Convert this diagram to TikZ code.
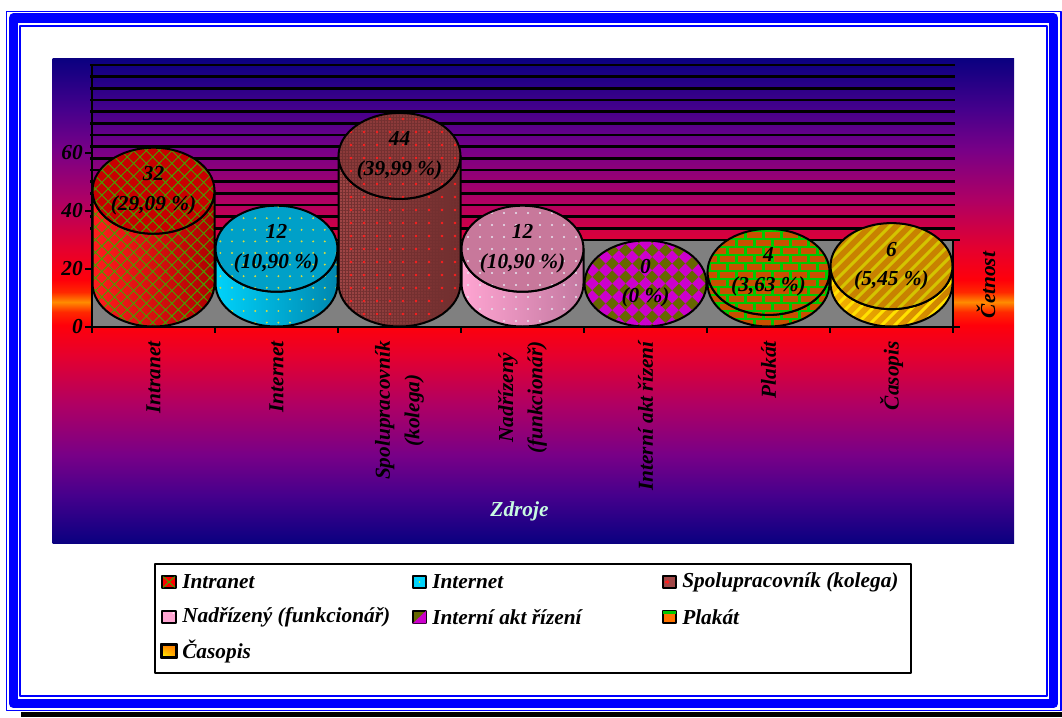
\documentclass[tikz,border=0pt]{standalone}
\usepackage{fontspec}
\setmainfont{Liberation Serif}
\usetikzlibrary{patterns.meta,shadings}

\definecolor{frblue}{RGB}{0,0,255}
\definecolor{bgA}{RGB}{10,0,128}
\definecolor{bgB}{RGB}{70,0,140}
\definecolor{bgC}{RGB}{120,0,135}
\definecolor{bgD}{RGB}{175,0,100}
\definecolor{bgE}{RGB}{230,0,45}
\definecolor{bgF}{RGB}{255,0,10}
\definecolor{bgG}{RGB}{255,40,0}
\definecolor{bgH}{RGB}{255,140,0}
\definecolor{floorgray}{RGB}{128,128,128}
\definecolor{zdr}{RGB}{200,250,225}
\definecolor{intTop}{RGB}{200,0,0}
\definecolor{intL}{RGB}{255,30,30}
\definecolor{intR}{RGB}{175,0,0}
\definecolor{intG}{RGB}{70,160,0}
\definecolor{netTop}{RGB}{0,160,200}
\definecolor{netL}{RGB}{0,210,250}
\definecolor{netR}{RGB}{0,135,175}
\definecolor{netY}{RGB}{220,220,60}
\definecolor{spoTop}{RGB}{140,58,58}
\definecolor{spoL}{RGB}{160,70,70}
\definecolor{spoR}{RGB}{110,45,45}
\definecolor{spoH}{RGB}{115,48,48}
\definecolor{spoD}{RGB}{255,30,30}
\definecolor{nadTop}{RGB}{200,120,155}
\definecolor{nadL}{RGB}{255,165,210}
\definecolor{nadR}{RGB}{195,120,160}
\definecolor{nadW}{RGB}{230,230,240}
\definecolor{chkO}{RGB}{102,102,0}
\definecolor{chkM}{RGB}{204,0,204}
\definecolor{brk}{RGB}{200,80,0}
\definecolor{mort}{RGB}{0,200,0}
\definecolor{casTop}{RGB}{200,130,0}
\definecolor{casL}{RGB}{245,180,0}
\definecolor{casR}{RGB}{200,125,0}
\definecolor{casS}{RGB}{212,196,0}
\definecolor{casSb}{RGB}{255,225,0}

\pgfdeclareverticalshading{chartbg}{100bp}{color(0bp)=(bgA); color(25bp)=(bgA); color(29.98bp)=(bgB); color(34.10bp)=(bgC); color(39.26bp)=(bgD); color(44.41bp)=(bgE); color(47.51bp)=(bgF); color(48.85bp)=(bgG); color(49.88bp)=(bgH); color(50.91bp)=(bgG); color(52.15bp)=(bgF); color(55.24bp)=(bgE); color(60.39bp)=(bgD); color(65.55bp)=(bgC); color(69.67bp)=(bgB); color(75bp)=(bgA); color(100bp)=(bgA)}

\newcommand\lblfont{\fontsize{16pt}{22pt}\selectfont\bfseries\itshape}
\newcommand\cylside[3]{\path[#3] ({#1-61},#2) -- ({#1-61},283.5) arc[start angle=180,end angle=0,x radius=61,y radius=43] -- ({#1+61},#2) arc[start angle=0,end angle=180,x radius=61,y radius=43] -- cycle;}
\newcommand\cyltop[3]{\path[#3] (#1,#2) ellipse[x radius=61,y radius=43];}

\tikzset{
  cylout/.style={draw=black,line width=1.5pt},
  wallline/.style={draw=black,line width=1.9pt},
  axisline/.style={draw=black,line width=1.5pt},
  vlab/.style={align=center,inner sep=0pt,font=\lblfont},
  axlab/.style={anchor=east,inner sep=0pt,font=\lblfont},
  catlab/.style={rotate=90,anchor=east,align=center,inner sep=0pt,font=\lblfont},
  lmark/.style={draw=black,line width=1.5pt,minimum width=10pt,minimum height=9.5pt,inner sep=0pt},
  ltext/.style={anchor=west,inner sep=0pt,font=\lblfont},
}

\begin{document}
\begin{tikzpicture}[x=0.75pt,y=-0.75pt,line join=round]
\useasboundingbox (0,0) rectangle (1062,717);
\fill[white] (0,0) rectangle (1062,717);

% frame
\draw[frblue,line width=1.1pt] (6.5,11.5) rectangle (1061,710.5);
\draw[frblue,line width=7.1pt] (13.5,18) rectangle (1053.5,703.5);
\draw[frblue,line width=1.5pt] (20,26) rectangle (1047,696);
\fill[black] (21,712) rectangle (1062,717);

% chart background
\shade[shading=chartbg] (52.7,58.3) rectangle (1014,543.3);

% back wall lines
\foreach \k in {0,...,14}{\draw[wallline] (90,{65+\k*11.667}) -- (955,{65+\k*11.667});}

% floor
\filldraw[fill=floorgray,draw=black,line width=1.5pt] (92,240) rectangle (953,327);

% cylinder 1 Intranet
\cylside{153.5}{190.7}{left color=intL,right color=intR,postaction={pattern={Hatch[angle=45,distance=6.75pt,line width=0.7pt]},pattern color=intG},postaction={cylout}}
\cyltop{153.5}{190.7}{fill=intTop,postaction={pattern={Hatch[angle=45,distance=6.75pt,line width=0.7pt]},pattern color=intG},postaction={cylout}}
% cylinder 2 Internet
\cylside{276.5}{248.7}{left color=netL,right color=netR,postaction={pattern={Dots[radius=0.8pt,distance=8.7pt]},pattern color=netY},postaction={cylout}}
\cyltop{276.5}{248.7}{fill=netTop,postaction={pattern={Dots[radius=0.8pt,distance=8.7pt]},pattern color=netY},postaction={cylout}}
% cylinder 3 Spolupracovnik
\cylside{399.5}{155.9}{left color=spoL,right color=spoR,postaction={pattern={Hatch[angle=0,distance=2.25pt,line width=0.45pt]},pattern color=spoH},postaction={pattern={Dots[radius=1pt,distance=9.75pt]},pattern color=spoD},postaction={cylout}}
\cyltop{399.5}{155.9}{fill=spoTop,postaction={pattern={Hatch[angle=0,distance=2.25pt,line width=0.45pt]},pattern color=spoH},postaction={pattern={Dots[radius=1pt,distance=9.75pt]},pattern color=spoD},postaction={cylout}}
% cylinder 4 Nadrizeny
\cylside{522.5}{248.7}{left color=nadL,right color=nadR,postaction={pattern={Dots[radius=0.8pt,distance=9pt]},pattern color=nadW},postaction={cylout}}
\cyltop{522.5}{248.7}{fill=nadTop,postaction={pattern={Dots[radius=0.8pt,distance=9pt]},pattern color=nadW},postaction={cylout}}
% cylinder 5 Interni akt rizeni (0)
\begin{scope}
  \cyltop{645.5}{283.5}{clip}
  \fill[chkO] (580,235) rectangle (712,332);
  \foreach \i in {-5,...,5}{\foreach \j in {-4,...,4}{
    \fill[chkM] ({645.5+13.3*\i+6.65},{283.5+13.3*\j}) -- ++(-6.65,6.65) -- ++(-6.65,-6.65) -- ++(6.65,-6.65) -- cycle;}}
\end{scope}
\cyltop{645.5}{283.5}{cylout}
% cylinder 6 Plakat
\begin{scope}
  \cylside{768.5}{271.9}{clip}
  \fill[mort] (700,220) rectangle (840,332);
  \foreach \j in {0,...,14}{\foreach \i in {0,...,8}{
    \fill[brk] ({702+18*\i-9*mod(\j,2)},{224+8*\j}) rectangle ++(15,5.5);}}
\end{scope}
\cylside{768.5}{271.9}{cylout}
\begin{scope}
  \cyltop{768.5}{271.9}{clip}
  \fill[mort] (700,220) rectangle (840,332);
  \foreach \j in {0,...,14}{\foreach \i in {0,...,8}{
    \fill[brk] ({702+18*\i-9*mod(\j,2)},{224+8*\j}) rectangle ++(15,5.5);}}
\end{scope}
\cyltop{768.5}{271.9}{cylout}
% cylinder 7 Casopis
\begin{scope}
  \cylside{891.5}{266.1}{clip}
  \shade[left color=casL,right color=casR] (825,215) rectangle (960,335);
  \foreach \s in {690,703,...,960}{\draw[casSb,line width=2.2pt] (\s,335) -- ({\s+120},215);}
\end{scope}
\cylside{891.5}{266.1}{cylout}
\begin{scope}
  \cyltop{891.5}{266.1}{clip}
  \fill[casTop] (825,215) rectangle (960,335);
  \foreach \s in {690,703,...,960}{\draw[casS,line width=2.2pt] (\s,335) -- ({\s+120},215);}
\end{scope}
\cyltop{891.5}{266.1}{cylout}

% value labels
\node[vlab] (v1) at (153.5,190.7) {32\\(29,09 \%)};
\node[vlab] (v2) at (276.5,248.7) {12\\(10,90 \%)};
\node[vlab] (v3) at (399.5,155.9) {44\\(39,99 \%)};
\node[vlab] (v4) at (522.5,248.7) {12\\(10,90 \%)};
\node[vlab] (v5) at (645.5,283.5) {0\\(0 \%)};
\node[vlab] (v6) at (768.5,271.9) {4\\(3,63 \%)};
\node[vlab] (v7) at (891.5,266.1) {6\\(5,45 \%)};

% axes
\draw[axisline] (91.7,65) -- (91.7,333);
\draw[axisline] (91.7,327) -- (960,327);
\draw[axisline] (953,240) -- (953,333);
\draw[axisline] (953,240) -- (960,240);
\foreach \v in {0,20,40,60}{\draw[axisline] (85,{327-2.9*\v}) -- (91.7,{327-2.9*\v});}
\foreach \k in {1,...,6}{\draw[axisline] ({91.7+123*\k},327) -- ({91.7+123*\k},333);}

\node[axlab] (t0) at (83,327) {0};
\node[axlab] (t20) at (83,269) {20};
\node[axlab] (t40) at (83,211) {40};
\node[axlab] (t60) at (83,153) {60};

% category labels
\node[catlab] (c1) at (153.5,341) {Intranet};
\node[catlab] (c2) at (276.5,341) {Internet};
\node[catlab] (c3) at (399.5,341) {Spolupracovník\\(kolega)};
\node[catlab] (c4) at (522.5,341) {Nadřízený\\(funkcionář)};
\node[catlab] (c5) at (645.5,341) {Interní akt řízení};
\node[catlab] (c6) at (768.5,341) {Plakát};
\node[catlab] (c7) at (891.5,341) {Časopis};

\node[inner sep=0pt,font=\lblfont,text=zdr] (zdroje) at (519.5,511.5) {Zdroje};
\node[rotate=90,inner sep=0pt,font=\lblfont] (cetnost) at (986,285) {Četnost};

% legend
\node[draw=black,line width=1.5pt,fill=white,minimum width=567pt,minimum height=82pt,inner sep=0pt] (legend) at (533,618.2) {};
\node[lmark,fill=red] (m1) at (169,582) {};
\draw[intG,line width=0.8pt] ([xshift=1.5pt,yshift=-1.5pt]m1.north west) -- ([xshift=-1.5pt,yshift=1.5pt]m1.south east);
\draw[intG,line width=0.8pt] ([xshift=1.5pt,yshift=1.5pt]m1.south west) -- ([xshift=-1.5pt,yshift=-1.5pt]m1.north east);
\node[lmark,fill=netL] (m2) at (419.5,582) {};
\fill[yellow] (m2.center) circle[radius=0.8];
\node[lmark,fill=spoL] (m3) at (669.5,582) {};
\draw[spoD,line width=0.8pt] ([xshift=2.5pt]m3.west) -- ++(3pt,0) ([xshift=4pt,yshift=1.5pt]m3.west) -- ++(0,-3pt);
\node[lmark,fill=nadL] (m4) at (169,617) {};
\fill[white] ([xshift=-2.5pt,yshift=-2.5pt]m4.north east) circle[radius=0.9];
\node[lmark,fill=chkO] (m5) at (419.5,617) {};
\fill[chkM] ([xshift=-0.8pt,yshift=0.8pt]m5.south east) -- ([xshift=-0.8pt,yshift=-0.8pt]m5.north east) -- ([xshift=0.8pt,yshift=0.8pt]m5.south west) -- cycle;
\node[lmark,fill=orange!90!red] (m6) at (669.5,617) {};
\fill[mort] ([xshift=0.8pt,yshift=-0.8pt]m6.north west) rectangle ([xshift=-0.8pt,yshift=-3pt]m6.north east);
\node[lmark,lower left=yellow,upper right=orange,upper left=orange,lower right=orange!70!yellow] (m7) at (169,651) {};
\draw[black,line width=1.5pt] (m7.north west) rectangle (m7.south east);

\node[ltext] (l1) at (182,582) {Intranet};
\node[ltext] (l2) at (432,582) {Internet};
\node[ltext] (l3) at (682,582) {Spolupracovník (kolega)};
\node[ltext] (l4) at (182,617) {Nadřízený (funkcionář)};
\node[ltext] (l5) at (432,617) {Interní akt řízení};
\node[ltext] (l6) at (682,617) {Plakát};
\node[ltext] (l7) at (182,651) {Časopis};
\end{tikzpicture}
\end{document}
